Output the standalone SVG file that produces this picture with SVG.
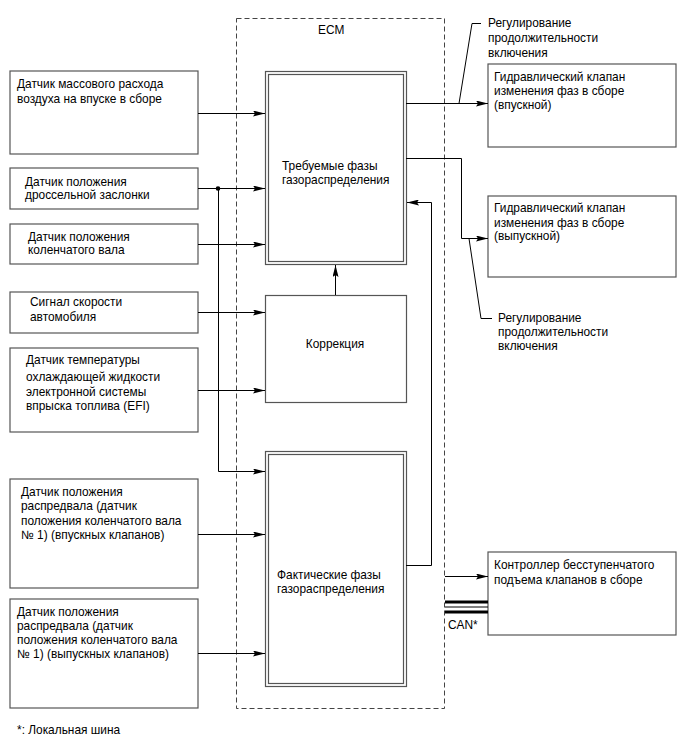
<svg xmlns="http://www.w3.org/2000/svg" width="688" height="755" viewBox="0 0 688 755">
<defs>
<style>
text{font-family:"Liberation Sans",Arial,sans-serif;font-size:11.9px;fill:#000;}
.box{fill:#fff;stroke:#555;stroke-width:1.2;}
.ln{fill:none;stroke:#000;stroke-width:1;}
.dash{fill:none;stroke:#444;stroke-width:1;stroke-dasharray:5,3;}
</style>
<marker id="ah" viewBox="0 0 12 6" refX="12" refY="3" markerWidth="12" markerHeight="6" markerUnits="userSpaceOnUse" orient="auto">
<path d="M0,0 L12,3 L0,6 L2,3 Z" fill="#000"/>
</marker>
</defs>
<rect width="688" height="755" fill="#fff"/>
<g id="ecm">
<rect class="dash" x="236.5" y="18.5" width="208" height="690"/>
<text x="318" y="34">ECM</text>
</g>
<g id="s1"><rect class="box" x="10" y="71" width="188" height="83"/>
<text x="17" y="88">Датчик массового расхода</text><text x="17" y="103">воздуха на впуске в сборе</text></g>
<g id="s2"><rect class="box" x="10" y="168" width="188" height="41"/>
<text x="25" y="186">Датчик положения</text><text x="25" y="199">дроссельной заслонки</text></g>
<g id="s3"><rect class="box" x="10" y="224" width="188" height="40"/>
<text x="28" y="241">Датчик положения</text><text x="28" y="254">коленчатого вала</text></g>
<g id="s4"><rect class="box" x="10" y="292" width="188" height="41"/>
<text x="30" y="306">Сигнал скорости</text><text x="30" y="321">автомобиля</text></g>
<g id="s5"><rect class="box" x="10" y="348" width="188" height="84"/>
<text x="26" y="364">Датчик температуры</text><text x="26" y="381">охлаждающей жидкости</text><text x="26" y="396">электронной системы</text><text x="26" y="410">впрыска топлива (EFI)</text></g>
<g id="s6"><rect class="box" x="10" y="479" width="188" height="109"/>
<text x="21" y="496">Датчик положения</text><text x="21" y="510">распредвала (датчик</text><text x="21" y="525">положения коленчатого вала</text><text x="21" y="539">№ 1) (впускных клапанов)</text></g>
<g id="s7"><rect class="box" x="10" y="599" width="188" height="109"/>
<text x="17" y="616">Датчик положения</text><text x="17" y="630">распредвала (датчик</text><text x="17" y="644">положения коленчатого вала</text><text x="17" y="658">№ 1) (выпускных клапанов)</text></g>
<g id="req"><rect class="box" x="265.5" y="71.5" width="141" height="193"/>
<rect class="box" x="268.5" y="74.5" width="135" height="187"/>
<text x="282" y="170">Требуемые фазы</text><text x="282" y="184">газораспределения</text></g>
<g id="corr"><rect class="box" x="265.5" y="295.5" width="141" height="107"/>
<text x="335" y="348" text-anchor="middle">Коррекция</text></g>
<g id="act"><rect class="box" x="265.5" y="451.5" width="141" height="235"/>
<rect class="box" x="268.5" y="454.5" width="135" height="229"/>
<text x="277" y="579">Фактические фазы</text><text x="277" y="593">газораспределения</text></g>
<g id="r1"><rect class="box" x="488" y="64" width="188" height="83"/>
<text x="494" y="81">Гидравлический клапан</text><text x="494" y="95">изменения фаз в сборе</text><text x="494" y="109">(впускной)</text></g>
<g id="r2"><rect class="box" x="488" y="196" width="188" height="81"/>
<text x="494" y="212">Гидравлический клапан</text><text x="494" y="227">изменения фаз в сборе</text><text x="494" y="240">(выпускной)</text></g>
<g id="r3"><rect class="box" x="488" y="552" width="188" height="83"/>
<text x="494" y="569">Контроллер бесступенчатого</text><text x="494" y="584">подъема клапанов в сборе</text></g>
<g id="lbl1"><text x="488" y="27">Регулирование</text><text x="488" y="42">продолжительности</text><text x="488" y="57">включения</text></g>
<g id="lbl2"><text x="498" y="322">Регулирование</text><text x="498" y="336">продолжительности</text><text x="498" y="350">включения</text></g>
<g id="connectors">
<path class="ln" d="M198,113.5 H265" marker-end="url(#ah)"/>
<path class="ln" d="M198,188.5 H265" marker-end="url(#ah)"/>
<circle cx="218" cy="188.5" r="2.3" fill="#000"/>
<path class="ln" d="M218.5,188.5 V471.5 H265" marker-end="url(#ah)"/>
<path class="ln" d="M198,244.5 H265" marker-end="url(#ah)"/>
<path class="ln" d="M198,312.5 H265" marker-end="url(#ah)"/>
<path class="ln" d="M198,390.5 H265" marker-end="url(#ah)"/>
<path class="ln" d="M198,534.5 H265" marker-end="url(#ah)"/>
<path class="ln" d="M198,653.5 H265" marker-end="url(#ah)"/>
<path class="ln" d="M335.5,295 V265" marker-end="url(#ah)"/>
<path class="ln" d="M406,565.5 H431.5 V202.5 H407" marker-end="url(#ah)"/>
<path class="ln" d="M406,103.5 H488" marker-end="url(#ah)"/>
<path class="ln" d="M406,158.5 H461.5 V238.5 H488" marker-end="url(#ah)"/>
<path class="ln" d="M481,23.5 H472 L459,103.5"/>
<path class="ln" d="M469,238.5 L481,318.5 H492"/>
<path class="ln" d="M445,576.5 H488" marker-end="url(#ah)"/>
<path d="M445,602 H488 M445,612 H488" stroke="#000" stroke-width="3"/>
<path d="M445,607 H488" stroke="#000" stroke-width="1"/>
</g>
<text x="448" y="629">CAN*</text>
<text x="17" y="734">*: Локальная шина</text>
</svg>
